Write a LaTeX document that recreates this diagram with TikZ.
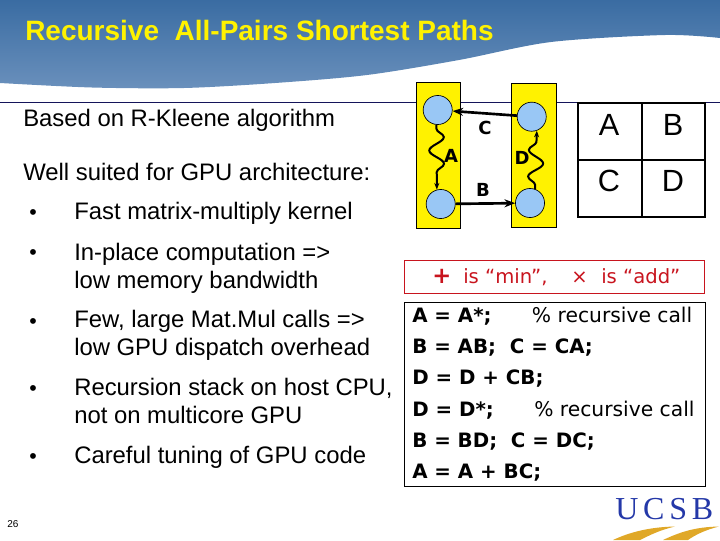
\documentclass[tikz,border=0pt]{standalone}
\usepackage{fontspec}
\setmainfont{Liberation Sans}
\newfontfamily\verafont{DejaVu Sans}
\newfontfamily\logofont[LetterSpace=15]{Liberation Serif}
\usetikzlibrary{arrows.meta,decorations.pathmorphing}
\definecolor{headdark}{HTML}{3A6CA2}
\definecolor{headlight}{HTML}{6A90BC}
\definecolor{nodeblue}{HTML}{99C7F5}
\definecolor{rulenavy}{HTML}{14145A}
\definecolor{notered}{HTML}{C8141E}
\definecolor{logoblue}{HTML}{2438A8}
\definecolor{logogold}{HTML}{E0A828}
\tikzset{
  bullettext/.style={anchor=base west, align=left, font=\fontsize{17.9}{20.6}\selectfont, inner sep=0pt},
  bulletmark/.style={anchor=base, font=\fontsize{16}{20}\selectfont, inner sep=0pt},
  vertex/.style={circle, draw=black, fill=nodeblue, minimum size=21.8pt, inner sep=0pt, line width=.5pt},
  bandbox/.style={draw=black, fill=yellow, line width=.5pt},
  edgelabel/.style={font=\verafont\bfseries\fontsize{13.5}{15}\selectfont, inner sep=0pt},
  wiggle/.style={line width=1.5pt, decorate, decoration={snake, amplitude=5.5pt, segment length=20pt, pre length=3pt, post length=5pt}, -{Stealth[length=5pt]}},
  straightedge/.style={line width=2pt, -{Stealth[length=8pt]}},
  matrixlabel/.style={font=\fontsize{23}{26}\selectfont, inner sep=0pt},
  notetext/.style={anchor=base west, inner sep=0pt, text=notered, font=\verafont\fontsize{14.7}{17}\selectfont},
  codeline/.style={anchor=base west, font=\verafont\bfseries\fontsize{14.85}{17}\selectfont, inner sep=0pt},
  commentline/.style={anchor=base west, font=\verafont\fontsize{15.2}{17}\selectfont, inner sep=0pt}
}
\begin{document}
\begin{tikzpicture}[x=.75pt, y=-.75pt]
\useasboundingbox (0,0) rectangle (720,540);
% header
\shade[top color=headdark, bottom color=headlight] (0,0) -- (720,0) -- (720,38)
  -- plot[smooth] coordinates {(720,38) (665,35) (551,42) (459,60) (367,75) (275,83) (184,88) (92,87.5) (0,83)} -- cycle;
\node[anchor=base west, inner sep=0pt, text=yellow, font=\bfseries\fontsize{21}{24}\selectfont] (title) at (25,40) {Recursive\ \ All-Pairs Shortest Paths};
\draw[rulenavy, line width=.7pt] (0,102) -- (720,102);
% left text
\node[bullettext] (based) at (23,126) {Based on R-Kleene algorithm};
\node[bullettext] (suited) at (23,180) {Well suited for GPU architecture:};
\node[bulletmark] (b1) at (33,219) {•};
\node[bullettext] (t1) at (74,219) {Fast matrix-multiply kernel};
\node[bulletmark] (b2) at (33,259) {•};
\node[bullettext] (t2) at (74,288) {In-place computation =>\\low memory bandwidth};
\node[bulletmark] (b3) at (33,328) {•};
\node[bullettext] (t3) at (74,355) {Few, large Mat.Mul calls =>\\low GPU dispatch overhead};
\node[bulletmark] (b4) at (33,395) {•};
\node[bullettext] (t4) at (74,423) {Recursion stack on host CPU,\\not on multicore GPU};
\node[bulletmark] (b5) at (33,463) {•};
\node[bullettext] (t5) at (74,463) {Careful tuning of GPU code};
\node[anchor=base west, inner sep=0pt, font=\fontsize{7.5}{9}\selectfont] (pagenum) at (7,527) {26};
% graph
\draw[bandbox] (416.5,82) rectangle (460.5,228);
\draw[bandbox] (511.5,83) rectangle (556,227);
\node[vertex] (va) at (437.7,110) {};
\node[vertex] (vd) at (531.7,116.7) {};
\node[vertex] (vc) at (440.7,204) {};
\node[vertex] (vb) at (530,203) {};
\draw[straightedge] (vd) -- (va);
\draw[straightedge] (vc) -- (vb);
\draw[wiggle] (va.265) -- (vc.105);
\draw[wiggle] (vb.70) -- (vd.290);
\node[edgelabel] (lc) at (485,128) {C};
\node[edgelabel] (la) at (451,156) {A};
\node[edgelabel] (ld) at (522,158) {D};
\node[edgelabel] (lb) at (483,190) {B};
% quadrants
\draw[line width=2pt] (578,103) rectangle (705,217);
\draw[line width=1.5pt] (642,103) -- (642,217) (578,160) -- (705,160);
\node[matrixlabel] (qa) at (609,125) {A};
\node[matrixlabel] (qb) at (673,125) {B};
\node[matrixlabel] (qc) at (609,181) {C};
\node[matrixlabel] (qd) at (673,181) {D};
% note
\node[draw=notered, line width=.7pt, minimum width=225pt, minimum height=24.5pt, anchor=north west, inner sep=0pt] (notebox) at (404.3,260) {};
\node[notetext, font=\verafont\bfseries\fontsize{17}{17}\selectfont] (plus) at (432,283) {+};
\node[notetext] (ismin) at (463,283) {is “min”,};
\node[notetext] (times) at (571,283) {×};
\node[notetext] (isadd) at (601,283) {is “add”};
% code
\draw[line width=.7pt] (404.3,302.3) rectangle (705.5,486.7);
\node[codeline] (c1) at (412,322) {A = A*;};
\node[commentline] (c1b) at (531.7,322) {\% recursive call};
\node[codeline] (c2) at (412,353) {B = AB;\ \ C = CA;};
\node[codeline] (c3) at (412,384) {D = D + CB;};
\node[codeline] (c4) at (412,416) {D = D*;};
\node[commentline] (c4b) at (534,416) {\% recursive call};
\node[codeline] (c5) at (412,447) {B = BD;\ \ C = DC;};
\node[codeline] (c6) at (412,478) {A = A + BC;};
% logo
\node[anchor=base west, inner sep=0pt, text=logoblue, font=\logofont\fontsize{24}{26}\selectfont] (logo) at (615,519) {UCSB};
\fill[logogold] (613,540) .. controls (630,532) and (650,527) .. (675,526.5) .. controls (660,530) and (650,535) .. (640,540) -- cycle;
\fill[logogold] (663,540) .. controls (680,532) and (695,527) .. (719,526.5) .. controls (705,530) and (695,535) .. (688,540) -- cycle;
\end{tikzpicture}
\end{document}
